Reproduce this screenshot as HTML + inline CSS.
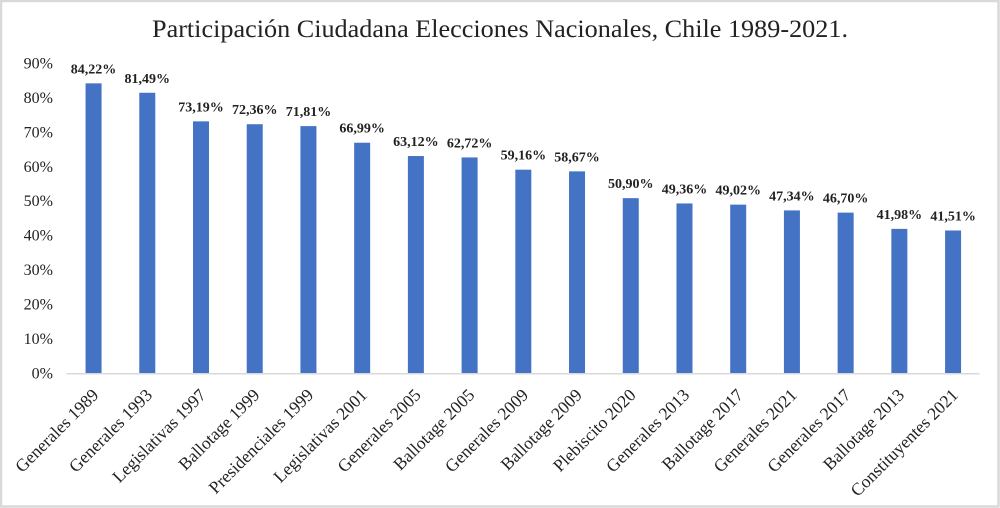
<!DOCTYPE html>
<html><head><meta charset="utf-8"><style>
html,body{margin:0;padding:0;background:#fff;}
svg{display:block;}
</style></head><body>
<svg width="1000" height="508" viewBox="0 0 1000 508" xmlns="http://www.w3.org/2000/svg">
<rect x="0" y="0" width="1000" height="508" fill="#fff"/>
<rect x="1" y="1" width="997.5" height="505.5" fill="none" stroke="#d9d9d9" stroke-width="2.5"/>
<text x="500" y="37" text-anchor="middle" font-family="Liberation Serif, serif" font-size="25" fill="#222" textLength="696" lengthAdjust="spacingAndGlyphs">Participación Ciudadana Elecciones Nacionales, Chile 1989-2021.</text>
<g font-family="Liberation Serif, serif" font-size="16" fill="#222" text-anchor="end">
<text x="53" y="378.5">0%</text>
<text x="53" y="344">10%</text>
<text x="53" y="309.6">20%</text>
<text x="53" y="275.1">30%</text>
<text x="53" y="240.7">40%</text>
<text x="53" y="206.2">50%</text>
<text x="53" y="171.8">60%</text>
<text x="53" y="137.3">70%</text>
<text x="53" y="102.9">80%</text>
<text x="53" y="68.4">90%</text>
</g>
<g fill="#4472c4">
<rect x="85.56" y="83.36" width="16" height="290.14"/>
<rect x="139.28" y="92.77" width="16" height="280.73"/>
<rect x="193.0" y="121.36" width="16" height="252.14"/>
<rect x="246.72" y="124.22" width="16" height="249.28"/>
<rect x="300.44" y="126.11" width="16" height="247.39"/>
<rect x="354.16" y="142.72" width="16" height="230.78"/>
<rect x="407.88" y="156.05" width="16" height="217.45"/>
<rect x="461.6" y="157.43" width="16" height="216.07"/>
<rect x="515.32" y="169.69" width="16" height="203.81"/>
<rect x="569.04" y="171.38" width="16" height="202.12"/>
<rect x="622.76" y="198.15" width="16" height="175.35"/>
<rect x="676.48" y="203.45" width="16" height="170.05"/>
<rect x="730.2" y="204.63" width="16" height="168.87"/>
<rect x="783.92" y="210.41" width="16" height="163.09"/>
<rect x="837.64" y="212.62" width="16" height="160.88"/>
<rect x="891.36" y="228.88" width="16" height="144.62"/>
<rect x="945.08" y="230.5" width="16" height="143.0"/>
</g>
<line x1="66.7" y1="373.8" x2="979.5" y2="373.8" stroke="#d9d9d9" stroke-width="1.5"/>
<g font-family="Liberation Serif, serif" font-size="14" font-weight="bold" fill="#222" text-anchor="middle">
<text x="93.56" y="73.4">84,22%</text>
<text x="147.28" y="82.8">81,49%</text>
<text x="201.0" y="111.4">73,19%</text>
<text x="254.72" y="114.2">72,36%</text>
<text x="308.44" y="116.1">71,81%</text>
<text x="362.16" y="132.7">66,99%</text>
<text x="415.88" y="146.1">63,12%</text>
<text x="469.6" y="147.4">62,72%</text>
<text x="523.32" y="159.7">59,16%</text>
<text x="577.04" y="161.4">58,67%</text>
<text x="630.76" y="188.2">50,90%</text>
<text x="684.48" y="193.5">49,36%</text>
<text x="738.2" y="194.6">49,02%</text>
<text x="791.92" y="200.4">47,34%</text>
<text x="845.64" y="202.6">46,70%</text>
<text x="899.36" y="218.9">41,98%</text>
<text x="953.08" y="220.5">41,51%</text>
</g>
<g font-family="Liberation Serif, serif" font-size="17.5" fill="#222" text-anchor="end">
<text transform="translate(99.56,396) rotate(-45)">Generales 1989</text>
<text transform="translate(153.28,396) rotate(-45)">Generales 1993</text>
<text transform="translate(207.0,396) rotate(-45)">Legislativas 1997</text>
<text transform="translate(260.72,396) rotate(-45)">Ballotage 1999</text>
<text transform="translate(314.44,396) rotate(-45)">Presidenciales 1999</text>
<text transform="translate(368.16,396) rotate(-45)">Legislativas 2001</text>
<text transform="translate(421.88,396) rotate(-45)">Generales 2005</text>
<text transform="translate(475.6,396) rotate(-45)">Ballotage 2005</text>
<text transform="translate(529.32,396) rotate(-45)">Generales 2009</text>
<text transform="translate(583.04,396) rotate(-45)">Ballotage 2009</text>
<text transform="translate(636.76,396) rotate(-45)">Plebiscito 2020</text>
<text transform="translate(690.48,396) rotate(-45)">Generales 2013</text>
<text transform="translate(744.2,396) rotate(-45)">Ballotage 2017</text>
<text transform="translate(797.92,396) rotate(-45)">Generales 2021</text>
<text transform="translate(851.64,396) rotate(-45)">Generales 2017</text>
<text transform="translate(905.36,396) rotate(-45)">Ballotage 2013</text>
<text transform="translate(959.08,396) rotate(-45)">Constituyentes 2021</text>
</g>
</svg>
</body></html>
